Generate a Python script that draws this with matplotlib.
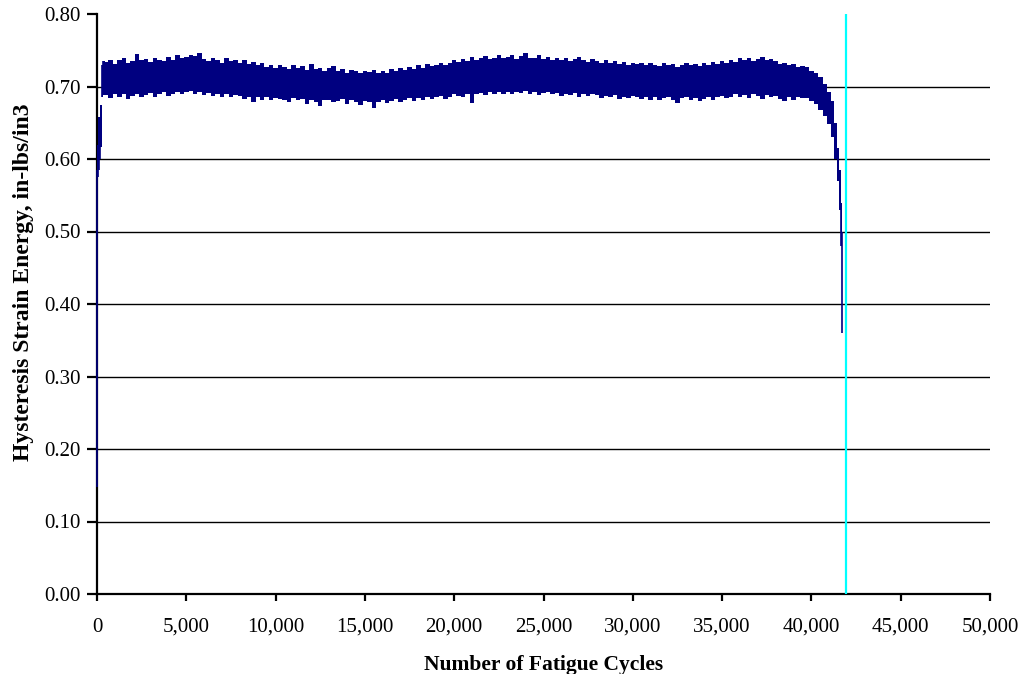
import numpy as np
import matplotlib
matplotlib.use("Agg")
import matplotlib.pyplot as plt

# ---- data ----
start_cycles = [0, 50, 100, 150, 200, 250, 300, 350]
start_hi = [0.585, 0.620, 0.658, 0.658, 0.674, 0.674, 0.730, 0.735]
start_lo = [0.148, 0.575, 0.585, 0.600, 0.617, 0.617, 0.685, 0.688]

band_cycles = np.arange(500, 39750, 250)
band_hi = [0.734, 0.737, 0.731, 0.736, 0.739, 0.733, 0.735, 0.745, 0.736, 0.738,
           0.734, 0.740, 0.737, 0.735, 0.741, 0.736, 0.743, 0.739, 0.741, 0.744,
           0.742, 0.746, 0.738, 0.735, 0.740, 0.737, 0.733, 0.739, 0.735, 0.737,
           0.732, 0.736, 0.731, 0.734, 0.729, 0.733, 0.727, 0.730, 0.726, 0.729,
           0.727, 0.724, 0.730, 0.725, 0.728, 0.723, 0.731, 0.724, 0.726, 0.722,
           0.725, 0.728, 0.721, 0.724, 0.719, 0.723, 0.721, 0.718, 0.722, 0.720,
           0.723, 0.718, 0.721, 0.719, 0.724, 0.722, 0.726, 0.723, 0.727, 0.724,
           0.729, 0.726, 0.731, 0.728, 0.730, 0.733, 0.729, 0.732, 0.737, 0.734,
           0.738, 0.735, 0.741, 0.737, 0.739, 0.742, 0.738, 0.740, 0.743, 0.739,
           0.741, 0.744, 0.738, 0.742, 0.746, 0.740, 0.739, 0.743, 0.738, 0.741,
           0.737, 0.740, 0.736, 0.739, 0.735, 0.738, 0.741, 0.736, 0.734, 0.738,
           0.735, 0.732, 0.737, 0.733, 0.735, 0.731, 0.734, 0.730, 0.733, 0.731,
           0.732, 0.729, 0.733, 0.730, 0.728, 0.732, 0.729, 0.731, 0.727, 0.730,
           0.733, 0.729, 0.731, 0.728, 0.732, 0.730, 0.734, 0.731, 0.735, 0.733,
           0.737, 0.734, 0.739, 0.736, 0.740, 0.735, 0.738, 0.741, 0.736, 0.738,
           0.735, 0.731, 0.733, 0.729, 0.731, 0.727, 0.728]
band_lo = [0.688, 0.684, 0.690, 0.686, 0.689, 0.683, 0.687, 0.690, 0.685, 0.688,
           0.691, 0.686, 0.689, 0.692, 0.687, 0.690, 0.693, 0.689, 0.692, 0.694,
           0.690, 0.693, 0.688, 0.691, 0.687, 0.690, 0.685, 0.689, 0.686, 0.688,
           0.687, 0.683, 0.686, 0.679, 0.685, 0.682, 0.686, 0.681, 0.684, 0.683,
           0.682, 0.678, 0.684, 0.681, 0.683, 0.676, 0.682, 0.679, 0.673, 0.681,
           0.682, 0.678, 0.680, 0.683, 0.676, 0.681, 0.679, 0.674, 0.680, 0.678,
           0.670, 0.679, 0.682, 0.677, 0.680, 0.683, 0.678, 0.681, 0.684, 0.680,
           0.684, 0.681, 0.686, 0.683, 0.685, 0.687, 0.683, 0.686, 0.689, 0.687,
           0.686, 0.690, 0.677, 0.689, 0.691, 0.688, 0.692, 0.690, 0.693, 0.689,
           0.692, 0.689, 0.693, 0.691, 0.694, 0.690, 0.692, 0.688, 0.691, 0.693,
           0.689, 0.691, 0.687, 0.690, 0.688, 0.691, 0.686, 0.689, 0.687, 0.690,
           0.688, 0.684, 0.687, 0.685, 0.688, 0.683, 0.686, 0.684, 0.687, 0.685,
           0.683, 0.686, 0.682, 0.685, 0.681, 0.684, 0.686, 0.682, 0.677, 0.684,
           0.685, 0.682, 0.684, 0.680, 0.683, 0.686, 0.682, 0.685, 0.687, 0.684,
           0.686, 0.689, 0.685, 0.688, 0.684, 0.689, 0.687, 0.683, 0.688, 0.686,
           0.687, 0.683, 0.680, 0.685, 0.682, 0.686, 0.684]

end_cycles = [39750, 40000, 40250, 40500, 40750, 41000, 41200, 41350, 41500, 41600, 41680, 41720]
end_hi = [0.727, 0.722, 0.718, 0.713, 0.703, 0.692, 0.680, 0.650, 0.615, 0.585, 0.540, 0.500]
end_lo = [0.684, 0.680, 0.676, 0.668, 0.660, 0.648, 0.630, 0.600, 0.570, 0.530, 0.480, 0.360]

failure_cycle = 41920

y_ticks = [0.0, 0.1, 0.2, 0.3, 0.4, 0.5, 0.6, 0.7, 0.8]
x_ticks = [0, 5000, 10000, 15000, 20000, 25000, 30000, 35000, 40000, 45000, 50000]

cycles = np.concatenate([start_cycles, band_cycles, end_cycles])
hi = np.concatenate([start_hi, band_hi, end_hi])
lo = np.concatenate([start_lo, band_lo, end_lo])

# ---- figure ----
plt.rcParams['font.family'] = ['Liberation Serif', 'DejaVu Serif']
fig = plt.figure(figsize=(10.21, 6.74), dpi=100)
ax = fig.add_axes([97/1021, 80/674, (990-97)/1021, (594-14)/674])

navy = '#000080'
ax.fill_between(cycles, lo, hi, step='mid', color=navy, linewidth=0, zorder=3, clip_on=False)
ax.vlines(cycles, lo, hi, color=navy, linewidth=1.2, zorder=3, clip_on=False)
ax.axvline(failure_cycle, color='#00FFFF', linewidth=1.6, zorder=4)

ax.set_xlim(0, 50000)
ax.set_ylim(0, 0.8)
ax.set_xticks(x_ticks)
ax.set_yticks(y_ticks)
ax.set_xticklabels([f"{v:,}" for v in x_ticks])
ax.set_yticklabels([f"{v:.2f}" for v in y_ticks])

ax.yaxis.grid(True, color='black', linewidth=1.0, zorder=1)
ax.set_axisbelow(True)
ax.get_ygridlines()[-1].set_visible(False)
ax.get_ygridlines()[0].set_visible(False)

for s in ['top', 'right']:
    ax.spines[s].set_visible(False)
for s in ['left', 'bottom']:
    ax.spines[s].set_linewidth(1.6)
    ax.spines[s].set_zorder(2.5)

ax.tick_params(axis='x', direction='out', length=5, width=1.6, pad=12, labelsize=15)
ax.tick_params(axis='y', direction='out', length=7, width=1.6, pad=5, labelsize=15)

ax.set_xlabel('Number of Fatigue Cycles', fontsize=15.5, fontweight='bold', labelpad=13)
ax.set_ylabel('Hysteresis Strain Energy, in-lbs/in3', fontsize=17, fontweight='bold')
ax.yaxis.set_label_coords(-0.071, 0.538)

fig.savefig('out.png', dpi=100)
